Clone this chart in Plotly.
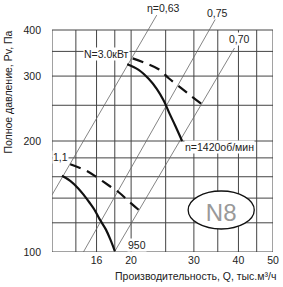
import math
import plotly.graph_objects as go

# ---------------- data ----------------
q_grid = [12, 14, 16, 18, 20, 25, 30, 35, 40, 45, 50]
p_grid = [100, 120, 140, 160, 180, 200, 250, 300, 350, 400]
x_ticks = [16, 20, 30, 40, 50]
y_ticks = [100, 200, 300, 400]

# n = 1420 rpm pressure curve
q_1420 = [19.5, 21.0, 22.4, 23.6, 24.7, 25.6, 26.6, 27.8]
p_1420 = [323, 312, 295, 277, 257, 238, 220, 200]
# N = 3.0 kW (dashed)
q_n1420 = [20.2, 22.0, 23.9, 25.5, 27.3, 29.3, 31.5]
p_n1420 = [335, 325, 313, 296, 281, 266, 252]
# n = 950 rpm pressure curve
q_950 = [12.8, 13.5, 14.2, 14.8, 15.3, 15.8, 16.3, 17.0, 17.5, 18.0]
p_950 = [161, 156, 149, 142, 136, 130, 123, 115, 108, 100.6]
# N = 1.1 kW (dashed)
q_n950 = [13.5, 15.0, 16.1, 17.4, 18.5, 19.75, 21.3]
p_n950 = [173, 166, 159, 151, 145, 137, 128.6]

# efficiency rays
eta_labels = ["η=0,63", "0,75", "0,70"]
eta_q = [[12.0, 23.6], [14.7, 34.6], [17.95, 39.0]]
eta_p = [[142.8, 439], [100, 431], [100, 357.5]]

# ---------------- figure ----------------
W, H = 283, 287
ML, MR, MT, MB = 52, 7, 4, 35
PW, PH = W - ML - MR, H - MT - MB
FONT = "Liberation Sans, Arial, sans-serif"
TXT = "#222"


def px(xp):
    return (xp - ML) / PW


def py(yp):
    return (H - MB - yp) / PH


fig = go.Figure()

# grid (frame included)
gx, gy = [], []
for q in q_grid:
    gx += [q, q, None]
    gy += [p_grid[0], p_grid[-1], None]
for p in p_grid:
    gx += [q_grid[0], q_grid[-1], None]
    gy += [p, p, None]
fig.add_trace(go.Scatter(x=gx, y=gy, mode="lines",
                         line=dict(color="#444", width=1), hoverinfo="skip"))

# efficiency rays
for qs, ps in zip(eta_q, eta_p):
    fig.add_trace(go.Scatter(x=qs, y=ps, mode="lines",
                             line=dict(color="#666", width=0.8), hoverinfo="skip"))

# curves
fig.add_trace(go.Scatter(x=q_1420, y=p_1420, mode="lines", line_shape="spline",
                         line=dict(color="#111", width=2.2)))
fig.add_trace(go.Scatter(x=q_950, y=p_950, mode="lines", line_shape="spline",
                         line=dict(color="#111", width=2.2)))
fig.add_trace(go.Scatter(x=q_n1420, y=p_n1420, mode="lines", line_shape="spline",
                         line=dict(color="#111", width=2.2, dash="11px,7px")))
fig.add_trace(go.Scatter(x=q_n950, y=p_n950, mode="lines", line_shape="spline",
                         line=dict(color="#111", width=2.2, dash="11px,7px")))

L = math.log10


def lab(text, q, p, **kw):
    d = dict(text=text, x=L(q), y=L(p), xref="x", yref="y", showarrow=False,
             xanchor="center", yanchor="middle",
             bgcolor="white", borderpad=0, font=dict(family=FONT, size=10.5, color=TXT))
    d.update(kw)
    fig.add_annotation(**d)


lab("N=3.0кВт", 17.06, 345)
lab("1,1", 12.65, 181)
lab("n=1420об/мин", 35.3, 193)
lab("950", 20.84, 104.5)
lab(eta_labels[2], 40.26, 378)
lab(eta_labels[1], 35.0, 445)
lab(eta_labels[0], 24.67, 460)

# axis titles
fig.add_annotation(text="Полное давление, Pv, Па", textangle=-90, xref="paper", yref="paper",
                   x=px(7), y=py(92), showarrow=False, xanchor="center", yanchor="middle",
                   font=dict(family=FONT, size=10.5, color=TXT))
fig.add_annotation(text="Производительность, Q, тыс.м³/ч", xref="paper", yref="paper",
                   x=px(281), y=py(276), showarrow=False, xanchor="right", yanchor="middle",
                   font=dict(family=FONT, size=10.5, color=TXT))

# N8 badge
fig.add_shape(type="circle", xref="paper", yref="paper",
              x0=px(190), x1=px(257), y0=py(229), y1=py(191),
              line=dict(color="#111", width=1.3), fillcolor="white", layer="above",
              label=dict(text="N8", textposition="middle center",
                         font=dict(family=FONT, size=24, color="#999")))

fig.update_layout(
    width=W, height=H, margin=dict(l=ML, r=MR, t=MT, b=MB),
    paper_bgcolor="white", plot_bgcolor="white", showlegend=False,
    xaxis=dict(type="log", range=[L(12), L(50)], tickvals=x_ticks,
               ticktext=[str(v) for v in x_ticks], showgrid=False, zeroline=False,
               showline=False, ticks="", tickfont=dict(family=FONT, size=10.5, color=TXT)),
    yaxis=dict(type="log", range=[2, 2 + 0.6021 * PH / 222], tickvals=y_ticks,
               ticktext=[str(v) for v in y_ticks], showgrid=False, zeroline=False,
               showline=False, ticks="", ticklabelstandoff=10,
               tickfont=dict(family=FONT, size=10.5, color=TXT)),
)

fig.write_html("out.html")
